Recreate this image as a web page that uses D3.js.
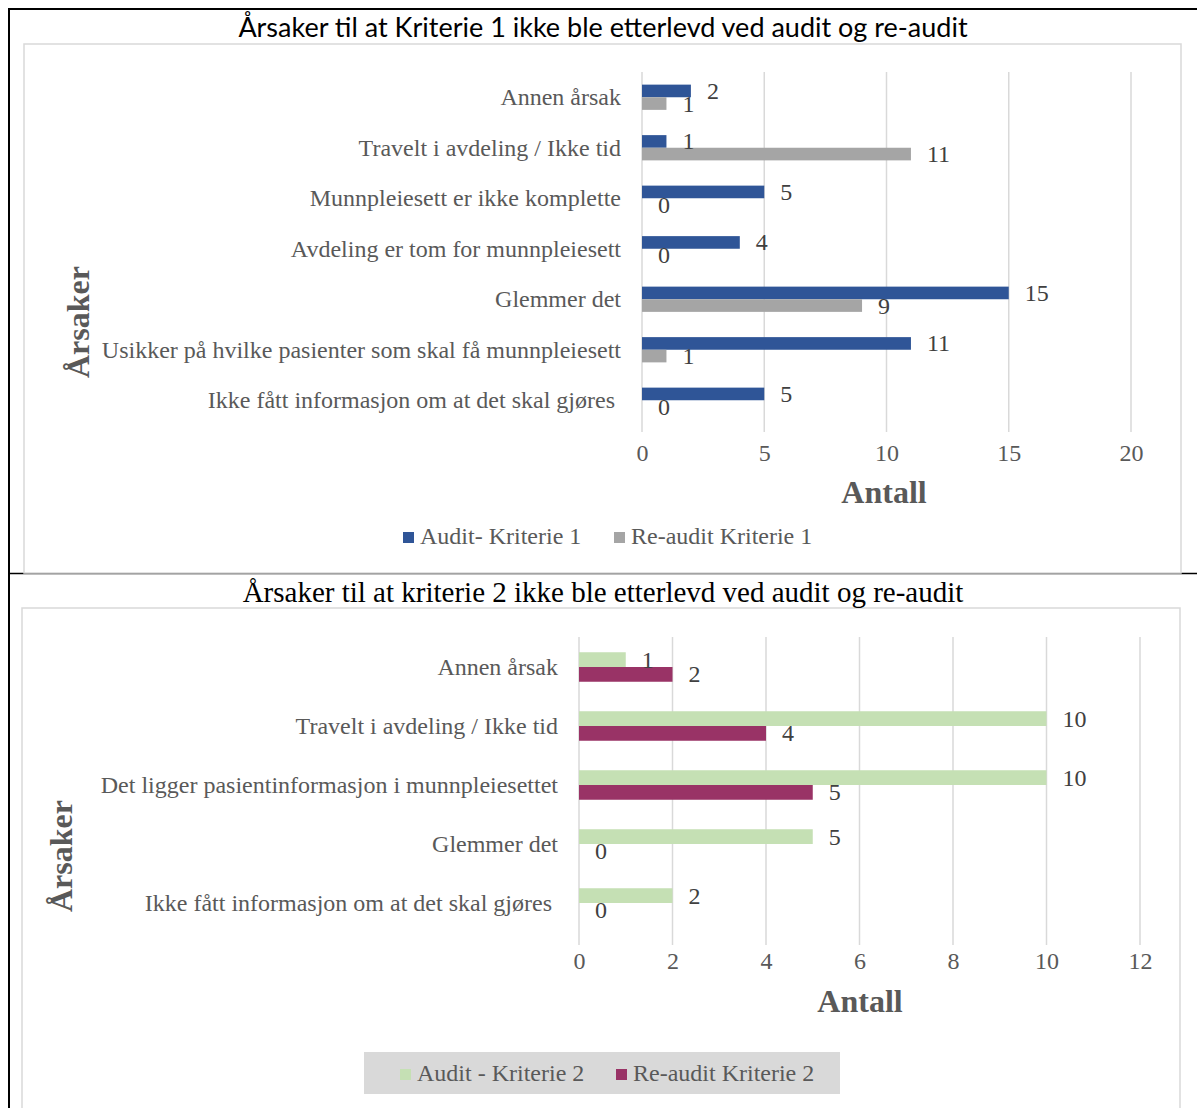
<!DOCTYPE html>
<html><head><meta charset="utf-8">
<script src="https://cdn.jsdelivr.net/npm/d3@7"></script>
<style>
html,body{margin:0;padding:0;background:#fff;}
svg{display:block;}
</style></head>
<body>
<svg id="c" width="1197" height="1108"></svg>
<script>
// ---- Chart 1 data ----
const cats1 = ["Annen årsak","Travelt i avdeling / Ikke tid","Munnpleiesett er ikke komplette","Avdeling er tom for munnpleiesett","Glemmer det","Usikker på hvilke pasienter som skal få munnpleiesett","Ikke fått informasjon om at det skal gjøres "];
const audit1 = [2,1,5,4,15,11,5];
const reaudit1 = [1,11,0,0,9,1,0];
const ticks1 = [0,5,10,15,20];
const series1 = ["Audit- Kriterie 1","Re-audit Kriterie 1"];
const title1 = "Årsaker til at Kriterie 1 ikke ble etterlevd ved audit og re-audit";

// ---- Chart 2 data ----
const cats2 = ["Annen årsak","Travelt i avdeling / Ikke tid","Det ligger pasientinformasjon i munnpleiesettet","Glemmer det","Ikke fått informasjon om at det skal gjøres "];
const audit2 = [1,10,10,5,2];
const reaudit2 = [2,4,5,0,0];
const ticks2 = [0,2,4,6,8,10,12];
const series2 = ["Audit - Kriterie 2","Re-audit Kriterie 2"];
const title2 = "Årsaker til at kriterie 2 ikke ble etterlevd ved audit og re-audit";

const svg = d3.select("#c");
const serif = "'Liberation Serif','Times New Roman',serif";
const sans = "Lato,'Open Sans',sans-serif";
const fs = 24;

// outer frame lines
svg.append("line").attr("x1",8).attr("x2",1197).attr("y1",9).attr("y2",9).attr("stroke","#000").attr("stroke-width",2);
svg.append("line").attr("x1",9).attr("x2",9).attr("y1",8).attr("y2",1108).attr("stroke","#000").attr("stroke-width",2);
svg.append("line").attr("x1",8).attr("x2",1197).attr("y1",573.5).attr("y2",573.5).attr("stroke","#000").attr("stroke-width",1.5);

function chart(cfg){
  const g = svg.append("g");
  g.append("rect").attr("x",cfg.box[0]).attr("y",cfg.box[1]).attr("width",cfg.box[2]).attr("height",cfg.box[3])
    .attr("fill","#fff").attr("stroke","#d9d9d9").attr("stroke-width",1.5);
  g.append("text").attr("x",cfg.titleX).attr("y",cfg.titleY).attr("text-anchor","middle")
    .attr("font-family",cfg.titleFont).attr("font-size",cfg.titleSize).attr("fill","#000").text(cfg.title);
  const x = d3.scaleLinear().domain([0,d3.max(cfg.ticks)]).range([cfg.x0,cfg.x1]);
  const y = d3.scaleBand().domain(cfg.cats).range([cfg.y0,cfg.y1]).paddingInner(0.5).paddingOuter(0.25);
  const sub = d3.scaleBand().domain([0,1]).range([0,y.bandwidth()]);
  g.selectAll(".grid").data(cfg.ticks).join("line")
    .attr("x1",d=>x(d)).attr("x2",d=>x(d)).attr("y1",cfg.gridTop).attr("y2",cfg.gridBot)
    .attr("stroke","#d9d9d9").attr("stroke-width",1.5);
  const ax = d3.axisBottom(x).tickValues(cfg.ticks).tickSize(0).tickPadding(0);
  const axg = g.append("g").attr("transform",`translate(0,${cfg.tickY})`).call(ax);
  axg.select(".domain").remove();
  axg.selectAll("text").attr("font-family",serif).attr("font-size",fs).attr("fill","#595959").attr("dy",0);
  g.selectAll(".cat").data(cfg.cats).join("text")
    .attr("x",cfg.labelX).attr("y",d=>y(d)+y.bandwidth()/2+8)
    .attr("text-anchor","end").attr("font-family",serif).attr("font-size",fs).attr("fill","#595959")
    .style("white-space","pre").text(d=>d);
  const vals = [cfg.a, cfg.b];
  vals.forEach((arr,si)=>{
    g.selectAll(".bar"+si).data(arr).join("rect")
      .attr("x",x(0)).attr("y",(d,i)=>y(cfg.cats[i])+sub(si))
      .attr("width",d=>x(d)-x(0)).attr("height",sub.bandwidth()).attr("fill",cfg.colors[si]);
  });
  vals.forEach((arr,si)=>{
    g.selectAll(".lab"+si).data(arr).join("text")
      .attr("x",d=>x(d)+cfg.labOff).attr("y",(d,i)=>y(cfg.cats[i])+sub(si)+sub.bandwidth()/2+8)
      .attr("font-family",serif).attr("font-size",fs).attr("fill","#404040").text(d=>d);
  });
  g.append("text").attr("x",cfg.antallX).attr("y",cfg.antallY).attr("text-anchor","middle")
    .attr("font-family",serif).attr("font-weight","bold").attr("font-size",32).attr("fill","#595959").text("Antall");
  g.append("text").attr("transform",`translate(${cfg.arsX},${cfg.arsY}) rotate(-90)`).attr("text-anchor","middle")
    .attr("font-family",serif).attr("font-weight","bold").attr("font-size",32).attr("fill","#595959").text("Årsaker");
  if(cfg.legBox){
    g.append("rect").attr("x",cfg.legBox[0]).attr("y",cfg.legBox[1]).attr("width",cfg.legBox[2]).attr("height",cfg.legBox[3]).attr("fill","#d9d9d9");
  }
  cfg.series.forEach((s,i)=>{
    g.append("rect").attr("x",cfg.legX[i]).attr("y",cfg.legY-12).attr("width",11).attr("height",11).attr("fill",cfg.colors[i]);
    g.append("text").attr("x",cfg.legX[i]+17).attr("y",cfg.legY).attr("font-family",serif).attr("font-size",fs)
      .attr("fill","#595959").text(s);
  });
}

chart({
  box:[24,44,1157,529], title:title1, titleX:603, titleY:37, titleFont:sans, titleSize:27,
  cats:cats1, a:audit1, b:reaudit1, ticks:ticks1, series:series1,
  x0:642, x1:1131, y0:72, y1:425.5, gridTop:72, gridBot:432, tickY:461, labelX:621, labOff:16,
  colors:["#2F5597","#A5A5A5"], antallX:884, antallY:503, arsX:89, arsY:322,
  legX:[403,614], legY:544
});
chart({
  box:[22,608,1158,540], title:title2, titleX:603, titleY:602, titleFont:serif, titleSize:29,
  cats:cats2, a:audit2, b:reaudit2, ticks:ticks2, series:series2,
  x0:579, x1:1140, y0:637.5, y1:932.5, gridTop:637, gridBot:945, tickY:969, labelX:558, labOff:16,
  colors:["#C5E0B4","#993366"], antallX:860, antallY:1012, arsX:72, arsY:856,
  legX:[400,616], legY:1081, legBox:[364,1052,476,42]
});
</script>
</body></html>
